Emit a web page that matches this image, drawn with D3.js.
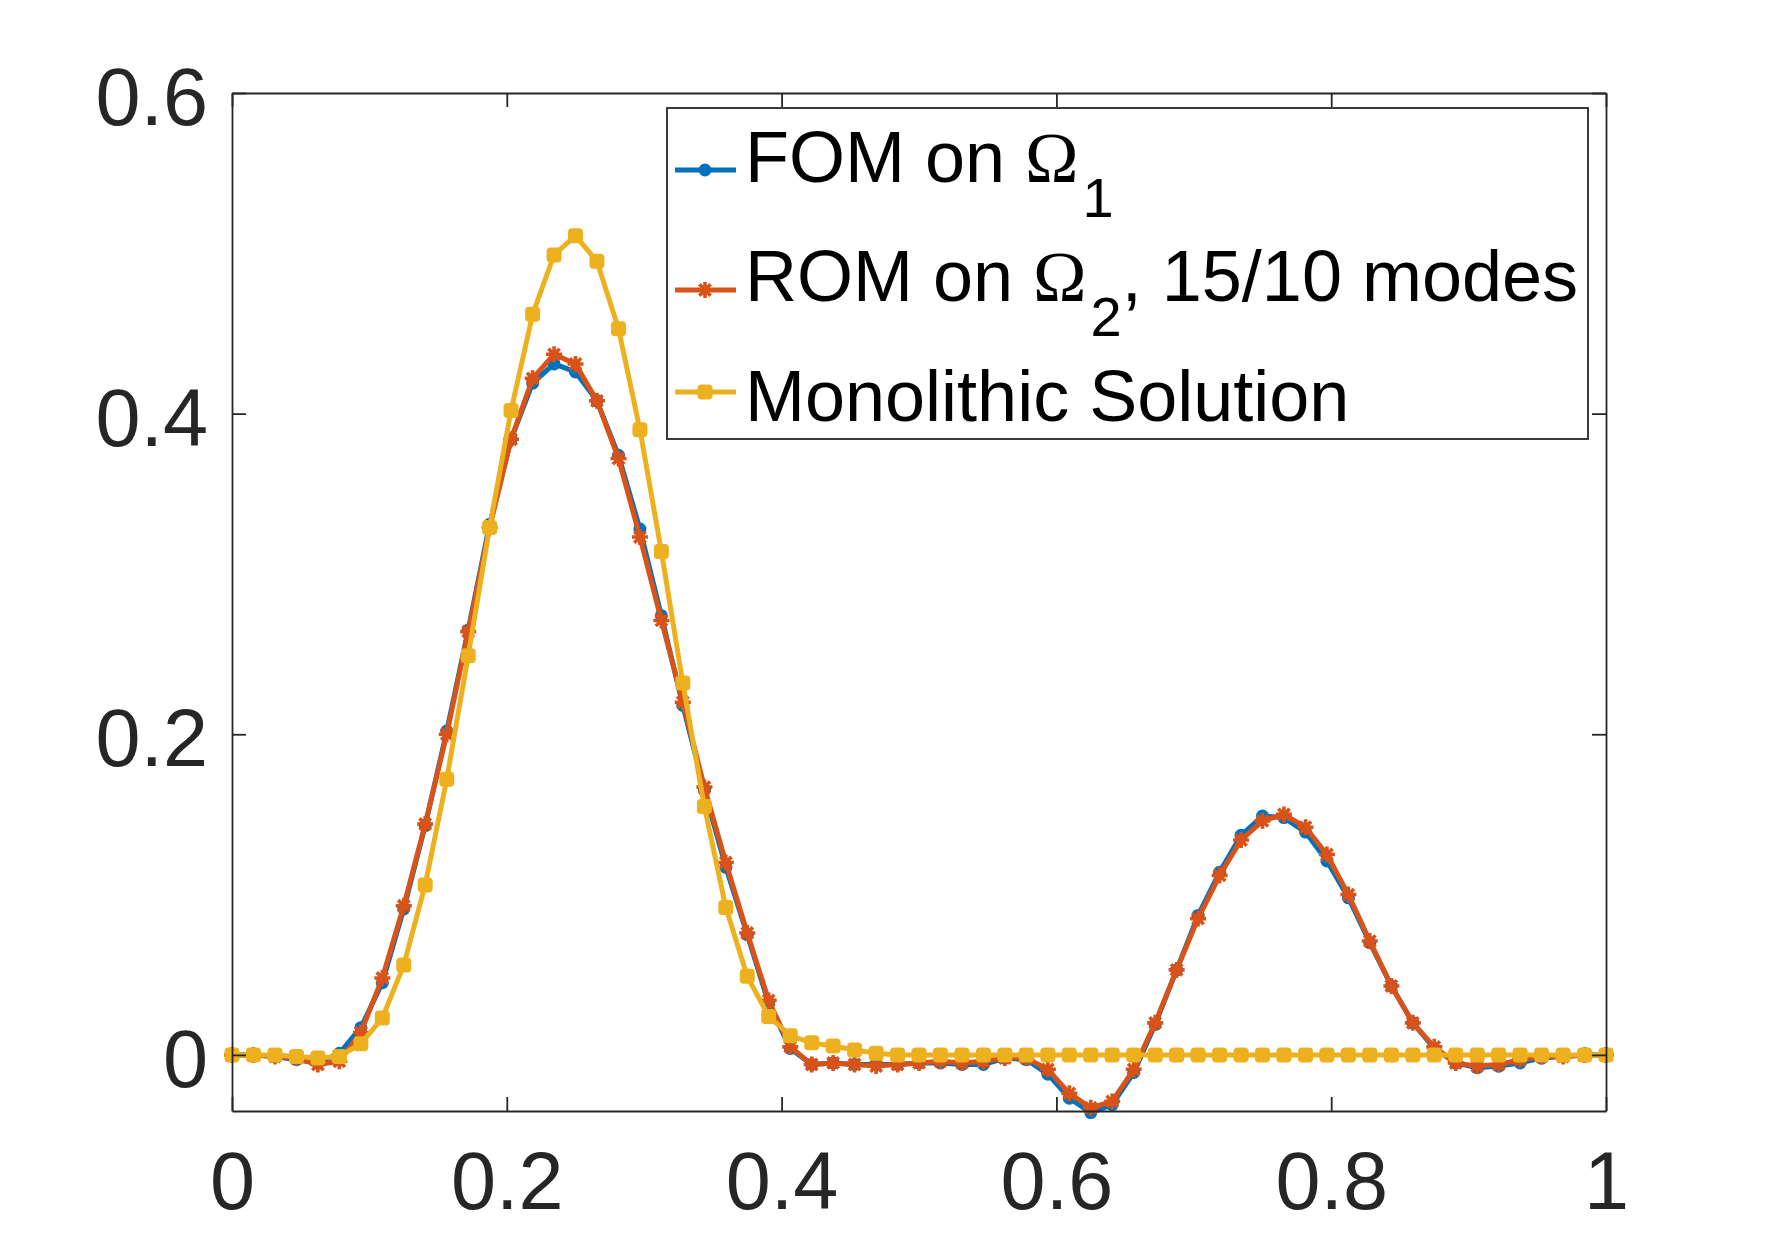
<!DOCTYPE html>
<html lang="en">
<head>
<meta charset="UTF-8">
<title>FOM / ROM / Monolithic</title>
<script src="https://d3js.org/d3.v7.min.js"></script>
<style>
    body { margin: 0; background: #fff; }
    svg { display: block; }
    .tick text { font-family: "Liberation Sans", Arial, Helvetica, sans-serif; fill: #262626; }
    .legend text { font-family: "Liberation Sans", Arial, Helvetica, sans-serif; fill: #000; }
</style>
</head>
<body>
<div id="chart"></div>
<script>
    // sample positions along the domain
    var gridX = [0, 0.0156, 0.0313, 0.0469, 0.0625, 0.0781, 0.0938, 0.1094, 0.125, 0.1406,
        0.1563, 0.1719, 0.1875, 0.2031, 0.2188, 0.2344, 0.25, 0.2656, 0.2813, 0.2969,
        0.3125, 0.3281, 0.3438, 0.3594, 0.375, 0.3906, 0.4063, 0.4219, 0.4375, 0.4531,
        0.4688, 0.4844, 0.5, 0.5156, 0.5313, 0.5469, 0.5625, 0.5781, 0.5938, 0.6094,
        0.625, 0.6406, 0.6563, 0.6719, 0.6875, 0.7031, 0.7188, 0.7344, 0.75, 0.7656,
        0.7813, 0.7969, 0.8125, 0.8281, 0.8438, 0.8594, 0.875, 0.8906, 0.9063, 0.9219,
        0.9375, 0.9531, 0.9688, 0.9844, 1];

    var fomValues = [0, 0, -0.001, -0.003, -0.005, 0.001, 0.017, 0.045, 0.091, 0.143,
        0.202, 0.265, 0.331, 0.384, 0.419, 0.431, 0.426, 0.408, 0.374, 0.328,
        0.274, 0.218, 0.165, 0.117, 0.075, 0.032, 0.004, -0.006, -0.005, -0.006,
        -0.006, -0.006, -0.005, -0.005, -0.006, -0.006, -0.002, -0.003, -0.012, -0.027,
        -0.036, -0.031, -0.011, 0.019, 0.053, 0.087, 0.114, 0.137, 0.149, 0.148,
        0.139, 0.121, 0.098, 0.070, 0.043, 0.020, 0.004, -0.005, -0.008, -0.007,
        -0.005, -0.002, -0.001, 0, 0];

    var romValues = [0, 0, -0.001, -0.002, -0.006, -0.004, 0.014, 0.048, 0.093, 0.144,
        0.200, 0.264, 0.329, 0.384, 0.422, 0.437, 0.431, 0.408, 0.372, 0.323,
        0.271, 0.220, 0.167, 0.120, 0.076, 0.034, 0.005, -0.006, -0.005, -0.006,
        -0.007, -0.006, -0.005, -0.004, -0.005, -0.004, -0.002, -0.002, -0.009, -0.024,
        -0.033, -0.029, -0.009, 0.020, 0.053, 0.085, 0.112, 0.134, 0.146, 0.150,
        0.142, 0.125, 0.100, 0.071, 0.043, 0.020, 0.005, -0.005, -0.007, -0.006,
        -0.003, -0.001, -0.001, 0, 0];

    var monoValues = [0, 0, 0, -0.001, -0.002, -0.001, 0.007, 0.023, 0.056, 0.106,
        0.172, 0.249, 0.329, 0.402, 0.462, 0.499, 0.511, 0.495, 0.453, 0.390,
        0.314, 0.232, 0.155, 0.092, 0.049, 0.024, 0.012, 0.0075, 0.0055, 0.003,
        0.001, 0, 0, 0, 0, 0, 0, 0, 0, 0,
        0, 0, 0, 0, 0, 0, 0, 0, 0, 0,
        0, 0, 0, 0, 0, 0, 0, 0, 0, 0,
        0, 0, 0, 0, 0];

    var xTicks = [0, 0.2, 0.4, 0.6, 0.8, 1];
    var yTicks = [0, 0.2, 0.4, 0.6];
    var xDomain = [0, 1];
    var yDomain = [-0.035, 0.6];

    var series = [
        {name: "fom", values: fomValues, color: "#0072BD", marker: "dot"},
        {name: "rom", values: romValues, color: "#D95319", marker: "star"},
        {name: "mono", values: monoValues, color: "#EDB120", marker: "square"}
    ];

    var width = 1774, height = 1248;
    var plotLeft = 232, plotRight = 1606, plotTop = 93, plotBottom = 1111;
    var axisColor = "#262626";

    var x = d3.scaleLinear().domain(xDomain).range([plotLeft, plotRight]);
    var y = d3.scaleLinear().domain(yDomain).range([plotBottom, plotTop]);

    var svg = d3.select("#chart").append("svg")
        .attr("width", width)
        .attr("height", height);

    svg.append("rect").attr("width", width).attr("height", height).attr("fill", "#fff");

    // markers
    function asterisk(s) {
        var a = s * 0.7071;
        return "M" + (-s) + ",0L" + s + ",0M0," + (-s) + "L0," + s +
            "M" + (-a) + "," + (-a) + "L" + a + "," + a +
            "M" + (-a) + "," + a + "L" + a + "," + (-a);
    }

    function drawMarkers(g, pts, s) {
        if (s.marker === "dot") {
            g.selectAll("circle").data(pts).enter().append("circle")
                .attr("cx", d => d[0]).attr("cy", d => d[1])
                .attr("r", 6.5)
                .attr("fill", s.color);
        } else if (s.marker === "star") {
            g.selectAll("path.mk").data(pts).enter().append("path")
                .attr("class", "mk")
                .attr("transform", d => "translate(" + d[0] + "," + d[1] + ")")
                .attr("d", asterisk(8))
                .attr("stroke", s.color)
                .attr("stroke-width", 3.6)
                .attr("fill", "none");
        } else {
            g.selectAll("rect").data(pts).enter().append("rect")
                .attr("x", d => d[0] - 7.5).attr("y", d => d[1] - 7.5)
                .attr("width", 15).attr("height", 15)
                .attr("rx", 4)
                .attr("fill", s.color);
        }
    }

    var line = d3.line().x(d => d[0]).y(d => d[1]);

    var plot = svg.append("g");
    series.forEach(function(s) {
        var pts = gridX.map((gx, i) => [x(gx), y(s.values[i])]);
        var g = plot.append("g");
        g.append("path")
            .attr("d", line(pts))
            .attr("fill", "none")
            .attr("stroke", s.color)
            .attr("stroke-width", 5)
            .attr("stroke-linejoin", "round");
        drawMarkers(g, pts, s);
    });

    // axes (ticks point inward, box all round)
    var fmt = d => String(d);

    var gx = svg.append("g")
        .attr("transform", "translate(0," + plotBottom + ")")
        .call(d3.axisBottom(x).tickValues(xTicks).tickFormat(fmt)
            .tickSizeInner(-14).tickSizeOuter(0).tickPadding(40));
    gx.selectAll("text").attr("font-size", 81).attr("dy", "0.71em");

    var gy = svg.append("g")
        .attr("transform", "translate(" + plotLeft + ",0)")
        .call(d3.axisLeft(y).tickValues(yTicks).tickFormat(fmt)
            .tickSizeInner(-14).tickSizeOuter(0).tickPadding(24));
    gy.selectAll("text").attr("font-size", 81).attr("dy", "0.39em");

    svg.append("g")
        .attr("transform", "translate(0," + plotTop + ")")
        .call(d3.axisTop(x).tickValues(xTicks).tickFormat("")
            .tickSizeInner(-14).tickSizeOuter(0));

    svg.append("g")
        .attr("transform", "translate(" + plotRight + ",0)")
        .call(d3.axisRight(y).tickValues(yTicks).tickFormat("")
            .tickSizeInner(-14).tickSizeOuter(0));

    svg.selectAll(".domain, .tick line")
        .attr("stroke", axisColor)
        .attr("stroke-width", 1.8);

    // legend
    var legend = svg.append("g").attr("class", "legend");
    legend.append("rect")
        .attr("x", 667).attr("y", 108)
        .attr("width", 1588 - 667).attr("height", 439 - 108)
        .attr("fill", "#fff")
        .attr("stroke", axisColor)
        .attr("stroke-width", 1.8);

    var legendLineY = [170, 290, 392];
    var legendBaseY = [182, 301, 421];
    var serif = "'Liberation Serif', 'Times New Roman', serif";

    series.forEach(function(s, i) {
        var g = legend.append("g");
        var ly = legendLineY[i];
        g.append("line")
            .attr("x1", 675).attr("x2", 736)
            .attr("y1", ly).attr("y2", ly)
            .attr("stroke", s.color)
            .attr("stroke-width", 5);
        drawMarkers(g, [[705, ly]], s);
    });

    var t1 = legend.append("text").attr("x", 745).attr("y", legendBaseY[0]).attr("font-size", 72);
    t1.append("tspan").text("FOM on ");
    t1.append("tspan").attr("font-family", serif).text("Ω");
    t1.append("tspan").attr("font-size", 56).attr("dx", 4).attr("dy", 35).text("1");

    var t2 = legend.append("text").attr("x", 745).attr("y", legendBaseY[1]).attr("font-size", 72);
    t2.append("tspan").text("ROM on ");
    t2.append("tspan").attr("font-family", serif).text("Ω");
    t2.append("tspan").attr("font-size", 56).attr("dx", 4).attr("dy", 35).text("2");
    t2.append("tspan").attr("dy", -35).text(", 15/10 modes");

    legend.append("text").attr("x", 745).attr("y", legendBaseY[2]).attr("font-size", 72)
        .text("Monolithic Solution");
</script>
</body>
</html>
